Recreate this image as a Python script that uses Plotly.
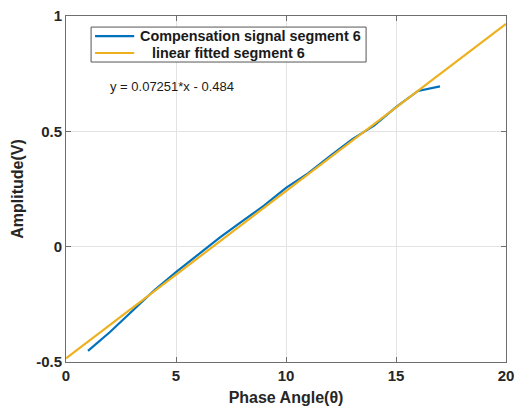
import plotly.graph_objects as go

# Measured compensation signal, segment 6
phase = [1, 2, 3, 4, 5, 6, 7, 8, 9, 10, 11, 12, 13, 14, 15, 16, 17]
amplitude = [-0.452, -0.37, -0.28, -0.19, -0.11, -0.035, 0.04, 0.11, 0.178, 0.255,
             0.318, 0.393, 0.465, 0.525, 0.605, 0.675, 0.695]

# Linear fit coefficients
slope = 0.07251
intercept = -0.484
fit_x = [0, 20]

fit_y = [slope * x + intercept for x in fit_x]

series_names = ["Compensation signal segment 6", "linear fitted segment 6"]

blue = "#0072BD"
orange = "#EDB120"
axis_col = "#6e6e6e"
font_family = "Liberation Sans, Arial, sans-serif"

fig = go.Figure()
fig.add_trace(go.Scatter(x=phase, y=amplitude, mode="lines",
                         line=dict(color=blue, width=2.2),
                         name=series_names[0], showlegend=False))
fig.add_trace(go.Scatter(x=fit_x, y=fit_y, mode="lines",
                         line=dict(color=orange, width=2.2),
                         name=series_names[1], showlegend=False))

# Compact legend box drawn in paper coordinates
box = dict(x0=0.057, x1=0.682, y0=0.867, y1=0.968)
fig.add_shape(type="rect", xref="paper", yref="paper", **box,
              line=dict(color="#555", width=1), fillcolor="white", layer="above")
rows = [(0.942, blue, 0.164, series_names[0]),
        (0.893, orange, 0.192, series_names[1])]
for y, col, tx, label in rows:
    fig.add_shape(type="line", xref="paper", yref="paper",
                  x0=0.066, x1=0.155, y0=y, y1=y,
                  line=dict(color=col, width=2.2), layer="above")
    fig.add_annotation(x=tx, y=y, xref="paper", yref="paper",
                       xanchor="left", yanchor="middle", showarrow=False,
                       text="<b>" + label + "</b>",
                       font=dict(family=font_family, size=14.4, color="#1a1a1a"))

fig.add_annotation(x=0.095, y=0.795, xref="paper", yref="paper",
                   xanchor="left", yanchor="middle", showarrow=False,
                   text="y = 0.07251*x - 0.484",
                   font=dict(family=font_family, size=13, color="#1a1a1a"))

axis_common = dict(showgrid=True, gridcolor="#e3e3e3", gridwidth=1,
                   showline=True, linecolor=axis_col, linewidth=1,
                   mirror="ticks", ticks="inside", ticklen=5,
                   tickcolor=axis_col, zeroline=False, automargin=False,
                   tickfont=dict(family=font_family, size=15, color="#262626"))

fig.update_xaxes(range=[0, 20], tickvals=[0, 5, 10, 15, 20],
                 ticktext=["<b>0</b>", "<b>5</b>", "<b>10</b>", "<b>15</b>", "<b>20</b>"],
                 title=dict(text="<b>Phase Angle(θ)</b>", standoff=8,
                            font=dict(family=font_family, size=16, color="#262626")),
                 **axis_common)
fig.update_yaxes(range=[-0.5, 1], tickvals=[-0.5, 0, 0.5, 1],
                 ticktext=["<b>-0.5</b>", "<b>0</b>", "<b>0.5</b>", "<b>1</b>"],
                 title=dict(text="<b>Amplitude(V)</b>", standoff=8,
                            font=dict(family=font_family, size=16, color="#262626")),
                 **axis_common)

fig.update_layout(
    width=516, height=413,
    margin=dict(l=66, r=10, t=16, b=51),
    plot_bgcolor="white", paper_bgcolor="white",
    showlegend=False,
)

fig.write_html("out.html")
